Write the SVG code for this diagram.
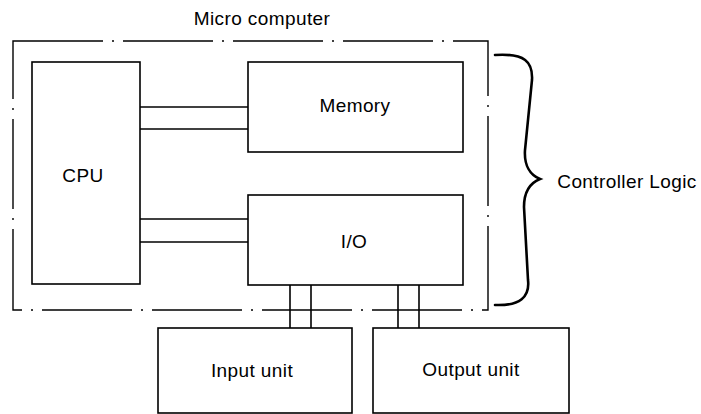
<svg xmlns="http://www.w3.org/2000/svg" width="701" height="414" viewBox="0 0 701 414">
<style>
.box{fill:none;stroke:#000;stroke-width:1.6}
.wire{fill:none;stroke:#000;stroke-width:1.6}
.dd{fill:none;stroke:#000;stroke-width:1.4;stroke-dasharray:90 9 2 9}
.brace{fill:none;stroke:#000;stroke-width:2.6;stroke-linecap:round}
text{font-family:"Liberation Sans",Arial,sans-serif;font-size:19px;fill:#000;text-anchor:middle;letter-spacing:0.4px}
</style>
<rect width="701" height="414" fill="#fff"/>
<g id="microcomputer">
<rect class="dd" x="13" y="41" width="475" height="269"/>
<text x="262" y="25">Micro computer</text>
</g>
<g id="cpu">
<rect class="box" x="32" y="62" width="108" height="222"/>
<text x="83" y="182">CPU</text>
</g>
<g id="memory">
<rect class="box" x="248" y="62" width="215" height="90"/>
<text x="355" y="112">Memory</text>
</g>
<g id="io">
<rect class="box" x="248" y="195" width="215" height="90"/>
<text x="354" y="248">I/O</text>
</g>
<g id="input">
<rect class="box" x="158" y="328" width="194" height="85"/>
<text x="252" y="377">Input unit</text>
</g>
<g id="output">
<rect class="box" x="373" y="328" width="196" height="85"/>
<text x="471" y="376">Output unit</text>
</g>
<g id="controller">
<path class="brace" d="M495,55 C525,53 533,62 532,80 L525,150 C524,165 530,175 540,179 C530,183 524,192 524,207 L528,280 C530,297 520,306 495,305"/>
<text x="627" y="188">Controller Logic</text>
</g>
<g id="connectors">
<line class="wire" x1="140" y1="107" x2="248" y2="107"/>
<line class="wire" x1="140" y1="129" x2="248" y2="129"/>
<line class="wire" x1="140" y1="219" x2="248" y2="219"/>
<line class="wire" x1="140" y1="242" x2="248" y2="242"/>
<line class="wire" x1="290" y1="285" x2="290" y2="328"/>
<line class="wire" x1="311" y1="285" x2="311" y2="328"/>
<line class="wire" x1="398" y1="285" x2="398" y2="328"/>
<line class="wire" x1="419" y1="285" x2="419" y2="328"/>
</g>
</svg>
